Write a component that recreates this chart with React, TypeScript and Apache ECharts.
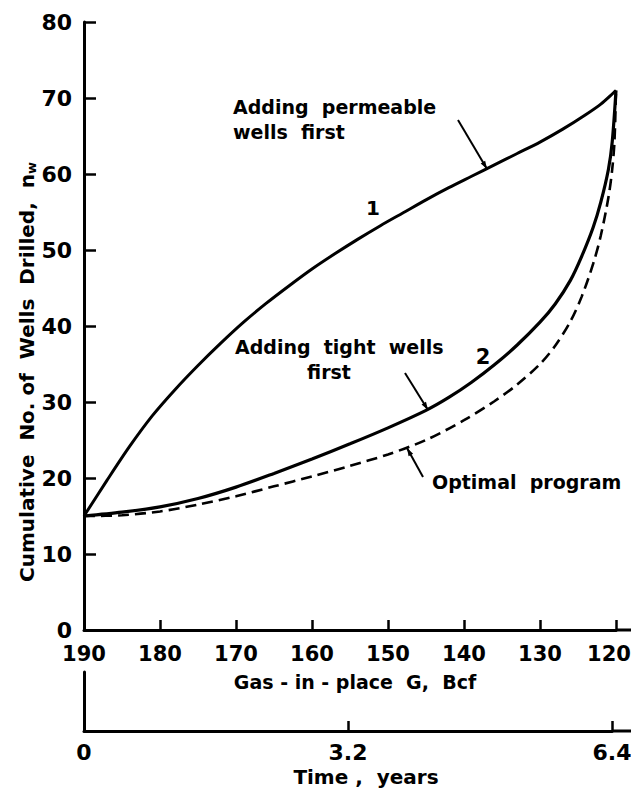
import React, { useEffect, useRef } from "react";
import * as echarts from "echarts";

// Gas-in-place G (Bcf) vs cumulative number of wells drilled
const gasTicks = [190, 180, 170, 160, 150, 140, 130, 120];
const wellTicks = [0, 10, 20, 30, 40, 50, 60, 70, 80];
const timeTicks = [0, 3.2, 6.4];

// Curve 1: adding permeable wells first
const permeableFirst: [number, number][] = [
  [190, 15], [187, 19.65], [184, 24.15], [181, 28.2], [178, 31.65], [175, 34.8],
  [172, 37.74], [169, 40.5], [166, 43], [163, 45.3], [160, 47.5], [157, 49.5],
  [154, 51.4], [151, 53.2], [148, 54.9], [145, 56.6], [142, 58.2], [139, 59.7],
  [136, 61.2], [133, 62.7], [130, 64.2], [127, 65.9], [124, 67.8], [122, 69.2],
  [120, 71],
];

// Curve 2: adding tight wells first
const tightFirst: [number, number][] = [
  [190, 15], [185, 15.5], [180, 16.2], [175, 17.3], [170, 18.8], [165, 20.6],
  [160, 22.5], [155, 24.5], [150, 26.6], [145, 28.9], [142, 30.6], [139, 32.6],
  [136, 34.9], [133, 37.5], [130, 40.5], [128, 42.9], [126, 46], [124.5, 49.2],
  [123, 53], [122, 56.3], [121, 60.6], [120.5, 64.2], [120, 71],
];

// Optimal program (dashed)
const optimalProgram: [number, number][] = [
  [190, 15], [185, 15.1], [180, 15.6], [175, 16.5], [170, 17.6], [165, 18.9],
  [160, 20.2], [155, 21.6], [150, 23.1], [145, 25], [140, 27.6], [136, 30.1],
  [133, 32.3], [130, 35], [128, 37.4], [126, 40.6], [124.5, 43.9], [123, 48.2],
  [122, 51.9], [121, 56.9], [120.5, 60.6], [120.2, 64.3], [120, 71],
];

const FONT = "DejaVu Sans";

export default function App() {
  const ref = useRef<HTMLDivElement>(null);

  useEffect(() => {
    const chart = echarts.init(ref.current as HTMLDivElement, null, { renderer: "svg" });
    const black = "#000";
    const tickLabel = { color: black, fontFamily: FONT, fontWeight: "bold" as const, fontSize: 22 };
    const annot = (text: string, x: number, y: number, align = "left", size = 19) => ({
      type: "text",
      x,
      y,
      style: { text, fill: black, font: `bold ${size}px "${FONT}"`, align, verticalAlign: "middle" },
    });
    const leader = (x1: number, y1: number, x2: number, y2: number, w = 2) => ({
      type: "line",
      shape: { x1, y1, x2, y2 },
      style: { stroke: black, lineWidth: w },
    });
    // small arrowhead at (x2, y2) pointing away from (x1, y1)
    const head = (x1: number, y1: number, x2: number, y2: number) => {
      const dx = x2 - x1;
      const dy = y2 - y1;
      const len = Math.hypot(dx, dy);
      const ux = dx / len;
      const uy = dy / len;
      const L = 8;
      const W = 2.6;
      const bx = x2 - ux * L;
      const by = y2 - uy * L;
      return {
        type: "polygon",
        shape: {
          points: [
            [x2, y2],
            [bx - uy * W, by + ux * W],
            [bx + uy * W, by - ux * W],
          ],
        },
        style: { fill: black },
      };
    };

    chart.setOption({
      animation: false,
      backgroundColor: "#fff",
      grid: [
        { left: 84, top: 22, width: 532, height: 608, outerBoundsMode: "none", containLabel: false },
        { left: 84, top: 672, width: 528, height: 59, outerBoundsMode: "none", containLabel: false },
      ],
      xAxis: [
        {
          gridIndex: 0,
          type: "value",
          min: gasTicks[gasTicks.length - 1],
          max: gasTicks[0],
          interval: 10,
          inverse: true,
          axisLine: { show: true, lineStyle: { color: black, width: 3 } },
          axisTick: { show: true, inside: true, length: 10, lineStyle: { color: black, width: 2.5 } },
          axisLabel: {
            ...tickLabel,
            fontSize: 21,
            margin: 13,
            formatter: (v: number) => (v === gasTicks[gasTicks.length - 1] ? `{r|${v}}` : String(v)),
            rich: {
              r: { color: black, fontFamily: FONT, fontWeight: "bold", fontSize: 21, padding: [0, 14, 0, 0] },
            },
          },
          splitLine: { show: false },
          name: "Gas - in - place  G,  Bcf",
          nameLocation: "middle",
          nameGap: 42,
          nameTextStyle: { color: black, fontFamily: FONT, fontWeight: "bold", fontSize: 19, padding: [0, 0, 0, 10] },
        },
        {
          gridIndex: 1,
          type: "value",
          min: timeTicks[0],
          max: timeTicks[timeTicks.length - 1],
          interval: 3.2,
          axisLine: { show: true, lineStyle: { color: black, width: 3 } },
          axisTick: { show: true, inside: true, length: 10, lineStyle: { color: black, width: 2.5 } },
          axisLabel: {
            ...tickLabel,
            margin: 10,
            formatter: (v: number) => (v === 0 ? "0" : v.toFixed(1)),
          },
          splitLine: { show: false },
          name: "Time ,  years",
          nameLocation: "middle",
          nameGap: 36,
          nameTextStyle: { color: black, fontFamily: FONT, fontWeight: "bold", fontSize: 20, padding: [0, 0, 0, 36] },
        },
      ],
      yAxis: [
        {
          gridIndex: 0,
          type: "value",
          min: wellTicks[0],
          max: wellTicks[wellTicks.length - 1],
          interval: 10,
          axisLine: { show: true, lineStyle: { color: black, width: 3 } },
          axisTick: { show: true, inside: true, length: 12, lineStyle: { color: black, width: 2.5 } },
          axisLabel: { ...tickLabel, margin: 12 },
          splitLine: { show: false },
        },
        {
          gridIndex: 1,
          type: "value",
          min: 0,
          max: 1,
          axisLine: { show: true, lineStyle: { color: black, width: 3 } },
          axisTick: { show: false },
          axisLabel: { show: false },
          splitLine: { show: false },
        },
      ],
      series: [
        {
          name: "Adding permeable wells first",
          type: "line",
          xAxisIndex: 0,
          yAxisIndex: 0,
          data: permeableFirst,
          showSymbol: false,
          symbol: "none",
          smooth: 0.3,
          lineStyle: { color: black, width: 3 },
        },
        {
          name: "Adding tight wells first",
          type: "line",
          xAxisIndex: 0,
          yAxisIndex: 0,
          data: tightFirst,
          showSymbol: false,
          symbol: "none",
          smooth: 0.3,
          lineStyle: { color: black, width: 3.2 },
        },
        {
          name: "Optimal program",
          type: "line",
          xAxisIndex: 0,
          yAxisIndex: 0,
          data: optimalProgram,
          showSymbol: false,
          symbol: "none",
          smooth: 0.3,
          lineStyle: { color: black, width: 2.6, type: [11, 6] },
        },
      ],
      graphic: [
        {
          type: "text",
          x: 27,
          y: 372,
          rotation: Math.PI / 2,
          style: {
            text: "Cumulative  No. of  Wells  Drilled,  n{s|w}",
            fill: black,
            font: `bold 20px "${FONT}"`,
            align: "center",
            verticalAlign: "middle",
            rich: { s: { fontSize: 13, fontWeight: "bold", fontFamily: FONT, fill: black, padding: [9, 0, 0, 0] } },
          },
        },
        annot("Adding  permeable", 233, 107),
        annot("wells  first", 233, 132),
        annot("1", 373, 208, "center", 20),
        annot("Adding  tight  wells", 235, 347),
        annot("first", 329, 372, "center"),
        annot("2", 483, 357, "center", 21),
        annot("Optimal  program", 432, 482),
        leader(458, 120, 487, 169),
        head(458, 120, 487, 169),
        leader(405, 373, 428, 410),
        head(405, 373, 428, 410),
        leader(423, 477, 407, 448),
        head(423, 477, 407, 448),
        leader(616, 630, 631, 630, 3),
        leader(612, 731, 631, 731, 3),
      ],
    });
    return () => chart.dispose();
  }, []);

  return (
    <div
      ref={ref}
      style={{ position: "fixed", left: 0, top: 0, width: 631, height: 794, background: "#fff" }}
    />
  );
}
